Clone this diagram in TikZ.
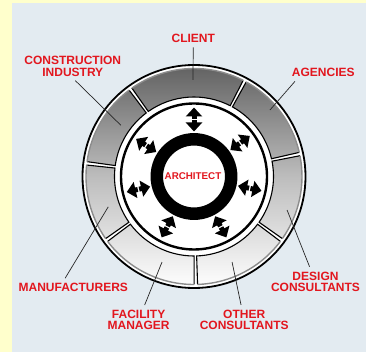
\documentclass[tikz,border=0pt]{standalone}
\usepackage{fontspec}
\newfontfamily\lblfont{Liberation Sans}
\usetikzlibrary{arrows.meta,positioning}
\definecolor{lblred}{RGB}{226,22,30}
\definecolor{panel}{RGB}{227,235,241}
\definecolor{paper}{RGB}{255,255,204}

\begin{document}
\begin{tikzpicture}[x=1pt,y=1pt,
  lbl/.style={text=lblred,font=\lblfont\bfseries\fontsize{12}{11.6}\selectfont,align=center,inner sep=1.5pt},
  leader/.style={line width=0.7pt,black!85,shorten <=3.5pt},
  dblarr/.style={line width=5pt,-{Triangle[width=16pt,length=9pt]}}]
  % background and panel
  \useasboundingbox (-194,-175.5) rectangle (172,176.5);
  \fill[paper] (-194,-175.5) rectangle (172,176.5);
  \fill[panel] (-182,-175.5) rectangle (172,173.5);
  % outer ring with its segments
  \fill[white] (0,0) circle[radius=112];
  \foreach \a/\b [evaluate=\a as \sa using \a+0.9, evaluate=\b as \ea using \b-0.9] in
      {12/62,62/126,126/173,173/216,216/271,271/324,324/372}{
    \begin{scope}
      \clip (\sa:79.5) arc[start angle=\sa,end angle=\ea,radius=79.5]
        -- (\ea:108) arc[start angle=\ea,end angle=\sa,radius=108] -- cycle;
      \shade[top color=black!62,bottom color=white,middle color=black!26] (-112,-112) rectangle (112,112);
    \end{scope}
    \draw[line width=1.1pt] (\ea:108) -- (\ea:79.5) arc[start angle=\ea,end angle=\sa,radius=79.5] -- (\sa:108);
    \draw[black!45,line width=1.4pt] (\sa:108) arc[start angle=\sa,end angle=\ea,radius=108];
  }
  \draw[line width=1.8pt] (0,0) circle[radius=111.5];
  \draw[line width=2.4pt] (0,0) circle[radius=73];
  % architect
  \draw[line width=12.5pt] (0,0) circle[radius=37.2];
  \node[text=lblred,font=\lblfont\bfseries\fontsize{9.8}{10}\selectfont] (architect) at (-1,0) {ARCHITECT};
  \foreach \t in {90,36,147,193,242,298,348}{
    \draw[dblarr] (\t:57.7) -- (\t:69);
    \draw[dblarr] (\t:56.3) -- (\t:45);
  }
  % labels
  \node[lbl] (client) at (-0.7,138.5) {CLIENT};
  \node[lbl] (cons) at (-121.2,110.1) {CONSTRUCTION\\INDUSTRY};
  \node[lbl] (agencies) at (129.3,103.7) {AGENCIES};
  \node[lbl] (manuf) at (-120.7,-110.7) {MANUFACTURERS};
  \node[lbl] (facility) at (-55.4,-143.5) {FACILITY\\MANAGER};
  \node[lbl] (other) at (50.2,-143.5) {OTHER\\CONSULTANTS};
  \node[lbl] (design) at (121.5,-105.2) {DESIGN\\CONSULTANTS};
  \coordinate (clientpt) at (-1,96.5);
  \coordinate (conspt) at (145:89.3);
  \coordinate (agenciespt) at (41.2:101);
  \coordinate (manufpt) at (199.5:91);
  \coordinate (facilitypt) at (249.5:91.3);
  \coordinate (otherpt) at (294:93.6);
  \coordinate (designpt) at (340.2:98.9);
  \draw[leader] (client) -- (clientpt);
  \draw[leader] (cons.south) -- (conspt);
  \draw[leader] ([xshift=7pt]agencies.south west) -- (agenciespt);
  \draw[leader] ([xshift=-10pt]manuf.north) -- (manufpt);
  \draw[leader] (facility) -- (facilitypt);
  \draw[leader] (other) -- (otherpt);
  \draw[leader] (design) -- (designpt);
\end{tikzpicture}
\end{document}
